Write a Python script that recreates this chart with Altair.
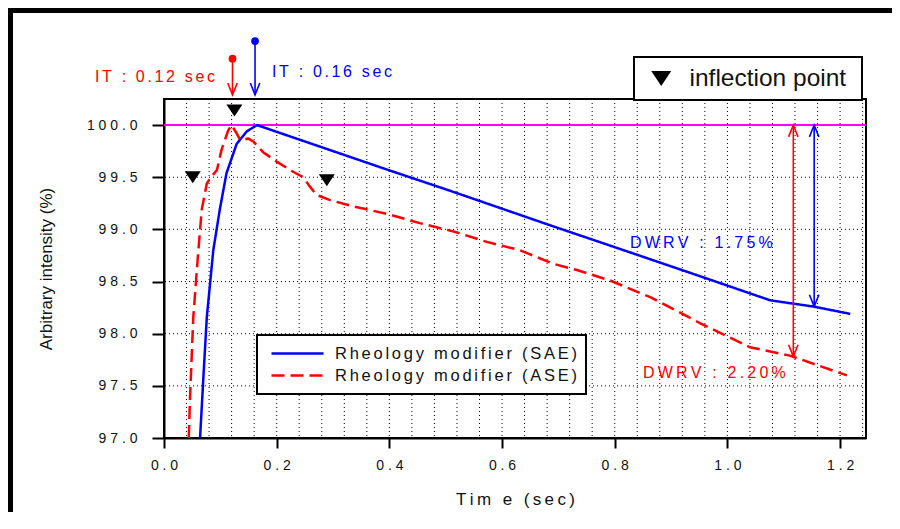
import altair as alt
import pandas as pd

FONT = "Liberation Sans"
BLUE = "#0000ff"
RED = "#ff0000"
THIN = "\u2009"
SIX = "\u2006"

# ---- data ----
series_names = ["Rheology modifier (SAE)", "Rheology modifier (ASE)"]

sae_t = [0.064, 0.070, 0.076, 0.0875, 0.099, 0.111, 0.129, 0.147, 0.165, 0.395, 0.508,
         0.685, 0.827, 0.952, 1.076, 1.153, 1.218]
sae_v = [97.0, 97.59, 98.16, 98.80, 99.19, 99.54, 99.82, 99.94, 100.0, 99.575, 99.37,
         99.04, 98.78, 98.55, 98.32, 98.26, 98.19]

ase_t = [0.044, 0.046, 0.052, 0.061, 0.067, 0.076, 0.082, 0.094, 0.102, 0.114, 0.120,
         0.129, 0.135, 0.150, 0.159, 0.176, 0.200, 0.230, 0.247, 0.259, 0.271, 0.295,
         0.336, 0.395, 0.454, 0.514, 0.573, 0.632, 0.691, 0.733, 0.792, 0.863, 0.952,
         1.040, 1.111, 1.212]
ase_v = [97.0, 97.36, 98.16, 98.80, 99.19, 99.44, 99.49, 99.57, 99.76, 99.95, 100.0,
         99.92, 99.86, 99.87, 99.84, 99.74, 99.65, 99.55, 99.50, 99.41, 99.33, 99.28,
         99.22, 99.15, 99.06, 98.98, 98.88, 98.80, 98.67, 98.61, 98.51, 98.35, 98.10,
         97.87, 97.79, 97.60]

reference_level = [100.0]

infl_t = [0.051, 0.125, 0.289]
infl_v = [99.50, 100.14, 99.47]
infl_name = ["inflection point"] * 3

it_t = [0.1216, 0.1616]
it_top = [100.636, 100.805]
it_tip = [100.29, 100.29]
it_labels = ["IT : 0.12 sec", "IT : 0.16 sec"]
it_label_t = [0.0905, 0.1917]
it_label_v = [100.46, 100.51]

dw_t = [1.117, 1.154]
dw_low = [97.78, 98.26]
dw_labels = ["DWRV : 2.20%", "DWRV : 1.75%"]
dw_label_t = [0.850, 0.827]
dw_label_v = [97.62, 98.87]

x_ticks = [0.0, 0.2, 0.4, 0.6, 0.8, 1.0, 1.2]
y_ticks = [97.0, 97.5, 98.0, 98.5, 99.0, 99.5, 100.0]
x_grid = [0.04, 0.08, 0.12, 0.16, 0.20, 0.24, 0.28, 0.32, 0.36, 0.40, 0.44, 0.48,
          0.52, 0.56, 0.60, 0.64, 0.68, 0.72, 0.76, 0.80, 0.84, 0.88, 0.92, 0.96,
          1.00, 1.04, 1.08, 1.12, 1.16, 1.20, 1.24]
y_grid = [97.5, 98.0, 98.5, 99.0, 99.5]

x_domain = [0, 1.246]
y_domain = [97.0, 100.25]


def spaced(s, sep):
    return sep.join(list(s))


# ---- tables ----
lines_df = pd.concat([
    pd.DataFrame({"t": sae_t, "v": sae_v, "series": series_names[0]}),
    pd.DataFrame({"t": ase_t, "v": ase_v, "series": series_names[1]}),
])
xs = alt.Scale(domain=x_domain, nice=False, zero=False)
ys = alt.Scale(domain=y_domain, nice=False, zero=False)

label_expr_num = "join(split(format(datum.value, '.1f'), ''), ' ')"
x_axis = alt.Axis(values=x_ticks, labelExpr=label_expr_num, tickSize=10, labelPadding=10,
                  labelFlush=False,
                  title=spaced("Tim e (sec)", THIN), titlePadding=19, grid=False)
y_axis = alt.Axis(values=y_ticks, labelExpr=label_expr_num, tickSize=12, labelPadding=15,
                  labelFlush=False,
                  title="Arbitrary intensity (%)", titlePadding=31, grid=False)


def X(field="t"):
    return alt.X(f"{field}:Q", scale=xs, axis=x_axis)


def Y(field="v"):
    return alt.Y(f"{field}:Q", scale=ys, axis=y_axis)


vgrid = alt.Chart(pd.DataFrame({"t": x_grid})).mark_rule(
    color="black", strokeWidth=1, strokeDash=[1, 3]).encode(x=X())
hgrid = alt.Chart(pd.DataFrame({"v": y_grid})).mark_rule(
    color="black", strokeWidth=1, strokeDash=[1, 3]).encode(y=Y())

ref_line = alt.Chart(pd.DataFrame({"v": reference_level})).mark_rule(
    color="#ff00ff", strokeWidth=2).encode(y=Y())

leg_common = dict(
    orient="none", title=None, strokeColor="black", fillColor="white",
    labelFont=FONT, labelColor="#111", labelLimit=500,
)
lines_legend = alt.Legend(
    legendX=93, legendY=236, padding=8.5, clipHeight=20, rowPadding=2,
    symbolType="stroke", symbolSize=2704, symbolStrokeWidth=2.5, symbolOffset=4.5,
    labelOffset=10, labelFontSize=16.5,
    labelExpr=f"join(split(datum.label, ''), '{SIX}') + '      {SIX}'",
    **leg_common)

lines = alt.Chart(lines_df).mark_line(strokeWidth=2.5).encode(
    x=X(), y=Y(),
    color=alt.Color("series:N", scale=alt.Scale(domain=series_names, range=[BLUE, RED]),
                    legend=lines_legend),
    strokeDash=alt.StrokeDash("series:N", scale=alt.Scale(domain=series_names, range=[[1, 0], [13, 6]]),
                              legend=lines_legend),
    detail="series:N",
)

tri_path = "M-1,-0.75L1,-0.75L0,0.75Z"
infl_df = pd.DataFrame({"t": infl_t, "v": infl_v, "kind": infl_name})
triangles = alt.Chart(infl_df).mark_point(filled=True, color="black", size=256, opacity=1).encode(
    x=X(), y=Y(),
    shape=alt.Shape("kind:N", scale=alt.Scale(domain=["inflection point"], range=[tri_path]),
                    legend=alt.Legend(legendX=470, legendY=-42, padding=9, clipHeight=25,
                                      symbolSize=400, symbolOffset=6, labelOffset=16,
                                      symbolFillColor="black", symbolStrokeColor="black",
                                      labelFontSize=24.5,
                                      labelExpr=f"replace(datum.label, ' ', '  ') + '  {SIX}'",
                                      **leg_common)),
)

down_v = "M-0.4,-1L0,0L0.4,-1"
up_v = "M-0.4,1L0,0L0.4,1"

layers = [vgrid, hgrid, ref_line, lines, triangles]

for i, col in enumerate([RED, BLUE]):
    # IT arrow
    seg = pd.DataFrame({"t": [it_t[i]], "v": [it_top[i]], "v2": [it_tip[i]]})
    layers.append(alt.Chart(seg).mark_rule(color=col, strokeWidth=1.6).encode(
        x=X(), y=Y(), y2="v2:Q"))
    layers.append(alt.Chart(seg).mark_point(color=col, filled=True, size=60, opacity=1).encode(
        x=X(), y=Y()))
    # DWRV double arrow
    dseg = pd.DataFrame({"t": [dw_t[i]], "v": reference_level, "v2": [dw_low[i]]})
    layers.append(alt.Chart(dseg).mark_rule(color=col, strokeWidth=1.6).encode(
        x=X(), y=Y(), y2="v2:Q"))
    downs = pd.DataFrame({"t": [it_t[i], dw_t[i]], "v": [it_tip[i], dw_low[i]]})
    layers.append(alt.Chart(downs).mark_point(shape=down_v, filled=False, color=col, size=560,
                                              strokeWidth=1.6, opacity=1).encode(x=X(), y=Y()))
    ups = pd.DataFrame({"t": [dw_t[i]], "v": reference_level})
    layers.append(alt.Chart(ups).mark_point(shape=up_v, filled=False, color=col, size=560,
                                            strokeWidth=1.6, opacity=1).encode(x=X(), y=Y()))
    # labels
    itl = pd.DataFrame({"t": [it_label_t[i]], "v": [it_label_v[i]],
                        "label": [spaced(it_labels[i], SIX)]})
    layers.append(alt.Chart(itl).mark_text(
        color=col, font=FONT, fontSize=16, align="right" if i == 0 else "left",
        baseline="middle").encode(x=X(), y=Y(), text="label:N"))
    dwl = pd.DataFrame({"t": [dw_label_t[i]], "v": [dw_label_v[i]],
                        "label": [spaced(dw_labels[i], THIN)]})
    layers.append(alt.Chart(dwl).mark_text(
        color=col, font=FONT, fontSize=16, align="left", baseline="middle").encode(
        x=X(), y=Y(), text="label:N"))

# outer frame (decoration)
one = pd.DataFrame({"a": [0]})
layers.append(alt.Chart(one).mark_rule(color="black", strokeWidth=7).encode(
    x=alt.value(-154.5), y=alt.value(-95), y2=alt.value(500)))
layers.append(alt.Chart(one).mark_rule(color="black", strokeWidth=7).encode(
    y=alt.value(-89.5), x=alt.value(-158), x2=alt.value(800)))

chart = alt.layer(*layers).properties(
    width=702, height=339,
    autosize=alt.AutoSizeParams(type="none"),
    padding={"left": 156, "top": 91, "right": 26, "bottom": 74},
).configure_view(
    stroke="black", strokeWidth=2
).configure_axis(
    domainColor="black", domainWidth=2, tickColor="black", tickWidth=2,
    labelFont=FONT, labelFontSize=14, labelColor="#111",
    titleFont=FONT, titleFontSize=17, titleFontWeight="normal", titleColor="#111",
).configure_legend(
    strokeWidth=2
)

chart.save("out.html", embed_options={"renderer": "svg", "actions": False})
